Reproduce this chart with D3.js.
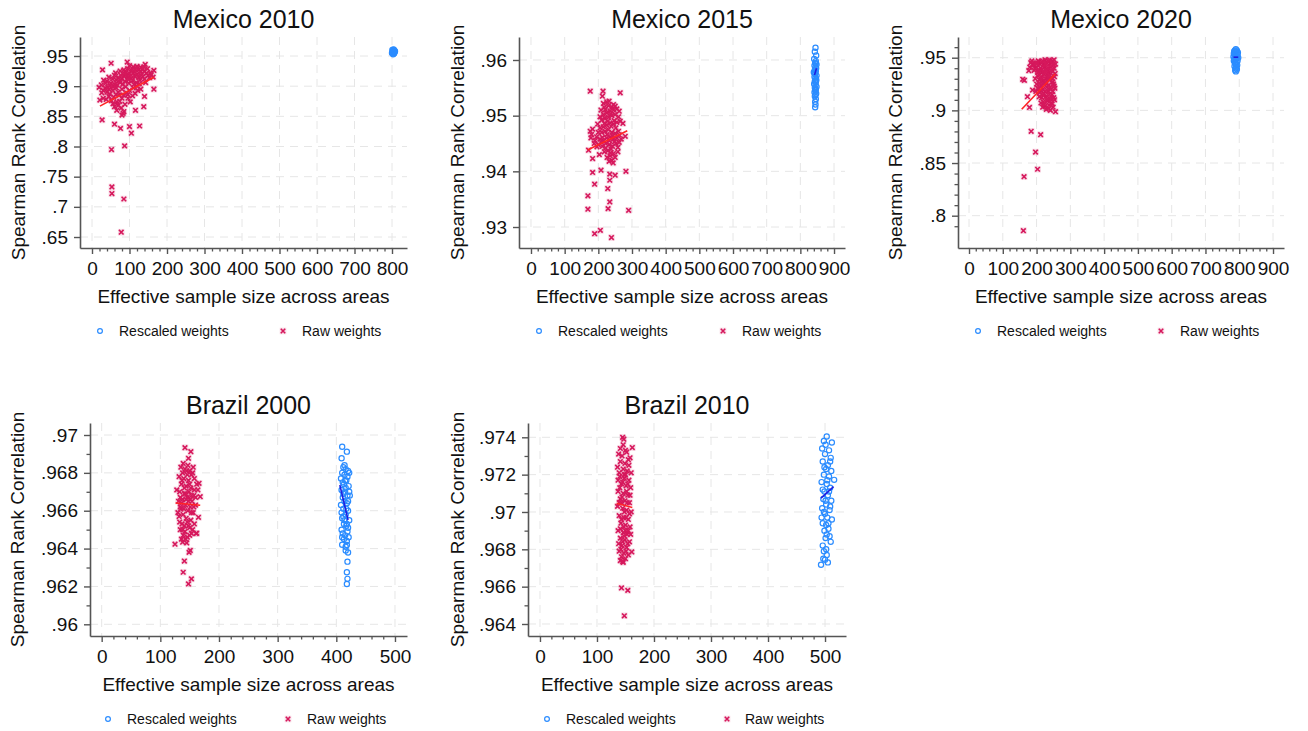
<!DOCTYPE html>
<html><head><meta charset="utf-8">
<script src="https://cdn.jsdelivr.net/npm/d3@7"></script>
<style>
html,body{margin:0;padding:0;background:#fff;}
svg text{font-family:"Liberation Sans",Arial,sans-serif;fill:#111;}
</style></head>
<body><svg id="c" width="1308" height="731"></svg>
<script>
// ---------- DATA ----------
const legendLabels = ["Rescaled weights", "Raw weights"];
const xAxisTitle = "Effective sample size across areas";
const yAxisTitle = "Spearman Rank Correlation";
const panelTitles = ["Mexico 2010", "Mexico 2015", "Mexico 2020", "Brazil 2000", "Brazil 2010"];

// Mexico 2010
const mx2010XTicks = [0,100,200,300,400,500,600,700,800];
const mx2010YTicks = [.65,.7,.75,.8,.85,.9,.95];
const mx2010Rescaled = [[800,.955],[803,.957],[806,.959],[804,.956],[802,.958],[807,.957],[805,.954],[801,.960],[804,.961],[806,.955],[803,.953],[808,.958],[805,.960],[802,.956]];
const mx2010Raw = [[94,.940],[51,.938],[142,.936],[100,.934],[110,.932],[120,.933],[130,.931],[135,.929],[125,.927],[115,.928],[105,.926],[95,.929],[85,.927],[75,.925],[90,.923],[100,.921],[110,.922],[120,.920],[130,.924],[140,.925],[145,.921],[150,.918],[135,.916],[125,.914],[115,.916],[105,.913],[95,.915],[85,.917],[80,.912],[70,.914],[65,.910],[60,.918],[55,.912],[45,.915],[40,.908],[50,.905],[60,.903],[75,.906],[88,.908],[98,.905],[108,.909],[118,.906],[128,.910],[140,.912],[155,.922],[165,.926],[163,.915],[165,.895],[28,.927],
[19,.898],[25,.902],[30,.893],[35,.897],[40,.890],[45,.895],[55,.893],[65,.897],[70,.890],[80,.895],[90,.899],[100,.893],[110,.897],[120,.900],[130,.895],[21,.877],[30,.880],[38,.878],[45,.883],[52,.876],[58,.882],[66,.874],[72,.885],[80,.880],[88,.870],[95,.886],[102,.874],[115,.888],[140,.883],[70,.868],[78,.864],[60,.866],[85,.858],
[112,.925],[118,.930],[123,.917],[133,.920],[138,.932],[104,.918],[97,.911],[92,.919],[87,.921],[82,.903],[77,.918],[72,.909],[67,.902],[63,.922],[57,.899],[48,.901],[42,.898],[36,.905],[31,.910],[26,.889],[112,.903],[126,.904],[143,.906],[148,.929],[153,.914],[158,.919],[92,.889],[84,.885],[74,.875],[64,.886],[56,.871],[48,.887],[108,.884],[122,.893],[96,.880],[66,.860],
[80,.852],[83,.855],[116,.860],[138,.866],[27,.844],[60,.837],[76,.830],[100,.833],[105,.822],[127,.834],[52,.795],[87,.801],[53,.733],[53,.722],[85,.713],[78,.658]];
const mx2010RawFit = [[21,.867],[165,.9147]];
const mx2010RescaledFit = [];

// Mexico 2015
const mx2015XTicks = [0,100,200,300,400,500,600,700,800,900];
const mx2015YTicks = [.93,.94,.95,.96];
const mx2015Rescaled = [[845,.9622],[843,.9615],[847,.9608],[841,.9602],[846,.9598],[844,.9595],[848,.9592],[842,.9590],[845,.9587],[847,.9585],[843,.9582],[846,.9580],[840,.9578],[844,.9575],[848,.9572],[842,.9570],[845,.9568],[847,.9565],[843,.9562],[846,.9560],[841,.9557],[845,.9555],[848,.9552],[843,.9550],[846,.9547],[844,.9545],[842,.9542],[847,.9540],[845,.9537],[843,.9535],[846,.9530],[844,.9525],[845,.9520],[844,.9515],[846,.9594],[842,.9577],[847,.9563],[844,.9548]];
const mx2015Raw = [[176,.9544],[214,.9544],[265,.9541],[212,.9535],[215,.9522],[225,.9525],
[230,.9518],[240,.9515],[250,.9517],[255,.9512],[245,.9510],[235,.9508],[225,.9505],[215,.9502],[205,.9498],[210,.9492],[220,.9495],[230,.9497],[240,.9500],[250,.9502],[260,.9498],[265,.9490],[255,.9488],[245,.9485],[235,.9487],[225,.9483],[215,.9480],[205,.9478],[198,.9485],[210,.9470],[220,.9472],[230,.9475],[240,.9470],[250,.9468],[260,.9472],[273,.9486],[280,.9463],[268,.9458],[255,.9460],[245,.9458],[235,.9462],[225,.9460],[215,.9455],[205,.9458],[195,.9462],[183,.9476],[176,.9472],[180,.9466],[188,.9450],[200,.9448],[212,.9445],[222,.9450],[232,.9448],[242,.9445],[252,.9450],[262,.9452],[238,.9440],[228,.9437],[218,.9435],[245,.9432],[235,.9428],[240,.9420],[232,.9418],[171,.9438],[183,.9423],[203,.9430],[250,.9425],
[221,.9511],[237,.9503],[247,.9491],[228,.9490],[218,.9486],[238,.9481],[252,.9478],[263,.9465],[243,.9464],[226,.9466],[212,.9461],[200,.9470],[233,.9455],[248,.9453],[258,.9443],[222,.9442],[209,.9452],[196,.9444],[236,.9433],[226,.9425],[244,.9415],[258,.9435],[218,.9515],[245,.9520],[232,.9526],[262,.9508],[208,.9510],[190,.9455],[178,.9460],
[183,.9398],[208,.9402],[189,.9377],[169,.9356],[169,.9332],[228,.9369],[234,.9384],[234,.9395],[250,.9393],[282,.9400],[234,.9345],[229,.9333],[290,.9330],[206,.9294],[189,.9288],[239,.9281]];
const mx2015RawFit = [[168,.94383],[286,.94730]];
const mx2015RescaledFit = [[842,.9573],[848,.9585]];

// Mexico 2020
const mx2020XTicks = [0,100,200,300,400,500,600,700,800,900];
const mx2020YTicks = [.8,.85,.9,.95];
const mx2020Rescaled = [[790,.958],[787,.957],[793,.957],[785,.956],[791,.956],[796,.955],[788,.955],[784,.954],[792,.954],[795,.953],[786,.953],[790,.952],[783,.951],[794,.951],[788,.950],[797,.950],[785,.949],[791,.949],[789,.948],[795,.947],[784,.947],[792,.946],[787,.945],[790,.944],[794,.943],[786,.942],[791,.941],[789,.940],[793,.939],[788,.938],[790,.937]];
const mx2020Raw = [[161,.7858],[163,.8370],[203,.8441],[197,.8604],[212,.8769],[184,.8801],[179,.9028],[256,.8987],[173,.9130],[188,.9193],[159,.9295],[164,.9285],[177,.9377],[183,.9453],[247,.9470],[180,.9410],[195,.9400],[190,.9430],
[205,.947],[215,.946],[225,.948],[235,.947],[245,.946],[252,.948],[210,.944],[220,.943],[230,.945],[240,.944],[250,.943],[200,.941],[212,.940],[222,.941],[232,.939],[242,.941],[252,.940],[207,.937],[217,.936],[227,.938],[237,.936],[247,.937],[255,.935],[203,.933],[213,.932],[223,.934],[233,.933],[243,.931],[253,.932],[208,.929],[218,.928],[228,.930],[238,.929],[248,.927],[200,.925],[212,.924],[224,.926],[236,.924],[250,.925],[206,.921],[218,.920],[230,.922],[242,.920],[254,.921],[210,.917],[222,.916],[234,.918],[246,.915],[215,.912],[227,.913],[239,.911],[251,.912],[220,.908],[232,.909],[244,.907],[225,.904],[237,.905],[249,.903],[229,.901],[241,.900],[218,.903],[213,.907],[208,.913],[198,.918],[196,.930],[193,.938],[190,.944],[186,.947],
[203,.945],[218,.947],[228,.944],[238,.948],[248,.944],[214,.938],[224,.936],[234,.940],[244,.938],[204,.936],[216,.930],[226,.927],[236,.931],[246,.930],[220,.925],[230,.926],[240,.922],[252,.923],[212,.919],[226,.918],[238,.915],[248,.918],[218,.915],[232,.910],[244,.911],[222,.906],[236,.902],[246,.906],[253,.910],[229,.938],[239,.933],[209,.926],[203,.921],[198,.945],[256,.944]];
const mx2020RawFit = [[156,.901],[255,.9345]];
const mx2020RescaledFit = [[783,.9505],[797,.9505]];

// Brazil 2000
const br2000XTicks = [0,100,200,300,400,500];
const br2000YTicks = [.96,.962,.964,.966,.968,.97];
const br2000Rescaled = [[410,.96938],[418,.96912],[409,.96877],
[412,.9683],[416,.9682],[420,.9681],[410,.9680],[414,.9679],[422,.9680],[408,.9677],[417,.9676],[413,.9674],[421,.9673],[409,.9671],[415,.9670],[419,.9668],[411,.9667],[423,.9668],[414,.9665],[418,.9664],[408,.9663],[412,.9661],[420,.9660],[416,.9658],[410,.9656],[422,.9655],[413,.9653],[417,.9652],[409,.9650],[419,.9649],[411,.9648],[415,.9647],[421,.9646],[413,.9645],[418,.9644],[410,.9642],[416,.9641],
[414,.9684],[419,.9678],[411,.9675],[416,.9672],[420,.9665],[412,.9669],[409,.9659],[417,.9661],[414,.9655],[420,.9651],[412,.9657],[418,.9653],[415,.9676],[410,.9646],[422,.9670],
[418,.96419],[420,.96379],[419,.96331],[418,.96275],[419,.96240],[418,.96213],[416,.9639]];
const br2000Raw = [[135,.9683],[142,.9682],[150,.9681],[138,.9680],[146,.9679],[155,.9680],[132,.9678],[140,.9677],[148,.9676],[158,.9677],[136,.9674],[144,.9673],[152,.9672],[162,.9674],[133,.9670],[141,.9669],[149,.9670],[157,.9668],[138,.9666],[146,.9667],[154,.9665],[131,.9665],[143,.9663],[151,.9662],[160,.9663],[135,.9661],[147,.9660],[139,.9658],[156,.9659],[132,.9657],[144,.9656],[152,.9655],[137,.9653],[148,.9652],[158,.9653],[134,.9650],[142,.9649],[150,.9651],[139,.9647],[146,.9646],[153,.9648],[136,.9645],[161,.9648],[145,.9643],[134,.9662],[153,.9668],[128,.9671],[164,.9671],[130,.9659],
[137,.9676],[145,.9681],[153,.9679],[141,.9672],[150,.9674],[158,.9671],[134,.9667],[143,.9669],[151,.9666],[160,.9667],[136,.9664],[148,.9665],[157,.9662],[140,.9661],[153,.9659],[133,.9654],[146,.9654],[155,.9650],[141,.9652],[150,.9647],[138,.9650],[143,.9645],[147,.9684],[139,.9685],[156,.9683],[144,.9666],
[142,.96933],[152,.96912],[148,.96877],[166,.96745],[168,.96674],[165,.96565],[162,.96481],[125,.96423],[138,.96434],[149,.96380],[151,.96390],[141,.96334],[139,.96275],[153,.96240],[148,.96213]];
const br2000RawFit = [[126,.96641],[168,.96629]];
const br2000RescaledFit = [[406,.96736],[420,.96551]];

// Brazil 2010
const br2010XTicks = [0,100,200,300,400,500];
const br2010YTicks = [.964,.966,.968,.97,.972,.974];
const br2010Rescaled = [[503,.97404],[512,.97372],[498,.9738],[495,.9734],[507,.9733],[500,.9731],[510,.9729],[496,.9727],[505,.9725],[502,.9723],[511,.9722],[498,.9720],[507,.9719],[516,.97172],[494,.9716],[503,.9715],[509,.9713],[499,.9711],[505,.9709],[497,.9707],[511,.9706],[502,.9704],[495,.9702],[508,.9701],[500,.9699],[504,.9697],[512,.9696],[496,.9694],[502,.9693],[506,.9691],[499,.9690],[503,.9688],[510,.9684],[496,.9682],[500,.96744],[493,.96717],[503,.9677],[498,.9679],[505,.9673],
[501,.9736],[509,.9727],[499,.9724],[504,.9717],[496,.9712],[507,.9711],[501,.9706],[509,.9703],[498,.9700],[506,.9694],[494,.9697],[501,.9686],[508,.9687],[497,.9675],[502,.9680]];
const br2010Raw = [[145,.9740],[147,.9739],[162,.97345],[146,.9736],
[138,.9731],[144,.9730],[152,.9732],[158,.9729],[141,.9727],[149,.9726],[155,.9728],[136,.9724],[146,.9723],[153,.9722],[160,.9721],[140,.9719],[148,.9718],[156,.9717],[143,.9715],[151,.9714],[159,.9713],[137,.9711],[146,.9710],[154,.9709],[141,.9707],[149,.9706],[157,.9705],[136,.9703],[145,.9702],[152,.9701],[160,.9700],[139,.9698],[147,.9697],[155,.9696],[142,.9694],[150,.9693],[158,.9692],[137,.9690],[146,.9689],[153,.9688],[141,.9686],[149,.9685],[157,.9684],[144,.9682],[152,.9681],[139,.9679],[147,.9678],[155,.9677],[143,.9676],[150,.9675],[141,.9674],[146,.9673],[161,.96786],[145,.96735],[148,.9720],[143,.9705],[150,.9690],
[141,.9734],[150,.9733],[156,.9725],[139,.9721],[150,.9720],[145,.9716],[154,.9715],[140,.9713],[152,.9711],[144,.9708],[153,.9705],[139,.9705],[148,.9700],[157,.9699],[143,.9696],[151,.9697],[141,.9691],[155,.9690],[148,.9687],[145,.9684],[154,.9683],[142,.9680],[151,.9679],[138,.9683],[159,.9688],[158,.9709],[137,.9717],[147,.9692],
[143,.96593],[154,.96580],[148,.96444]];
const br2010RawFit = [[134.5,.97047],[162,.97024]];
const br2010RescaledFit = [[493,.97074],[515,.97136]];

// ---------- LAYOUT ----------
const panels = [
  {title:panelTitles[0], raw:mx2010Raw, resc:mx2010Rescaled, rawFit:mx2010RawFit, rescFit:mx2010RescaledFit, xTicks:mx2010XTicks, yTicks:mx2010YTicks, xMinor:20, yMinor:null,
   L:80, R:407, T:37, B:248, xDom:[-32,840], yDom:[.6318,.9815], yTitleDx:62, leg:[20,39,203,222]},
  {title:panelTitles[1], raw:mx2015Raw, resc:mx2015Rescaled, rawFit:mx2015RawFit, rescFit:mx2015RescaledFit, xTicks:mx2015XTicks, yTicks:mx2015YTicks, xMinor:20, yMinor:null,
   L:519, R:845, T:37, B:248, xDom:[-35.6,932.6], yDom:[.92623,.96413], yTitleDx:62, leg:[20,39,204,223]},
  {title:panelTitles[2], raw:mx2020Raw, resc:mx2020Rescaled, rawFit:mx2020RawFit, rescFit:mx2020RescaledFit, xTicks:mx2020XTicks, yTicks:mx2020YTicks, xMinor:20, yMinor:.01,
   L:958, R:1284, T:37, B:248, xDom:[-32.6,932.5], yDom:[.76933,.96966], yTitleDx:63, leg:[20,39,203,222]},
  {title:panelTitles[3], raw:br2000Raw, resc:br2000Rescaled, rawFit:br2000RawFit, rescFit:br2000RescaledFit, xTicks:br2000XTicks, yTicks:br2000YTicks, xMinor:20, yMinor:.001,
   L:90, R:407, T:423, B:636, xDom:[-19.9,520.5], yDom:[.959382,.970634], yTitleDx:73, leg:[18,37,198,217]},
  {title:panelTitles[4], raw:br2010Raw, resc:br2010Rescaled, rawFit:br2010RawFit, rescFit:br2010RescaledFit, xTicks:br2010XTicks, yTicks:br2010YTicks, xMinor:20, yMinor:.001,
   L:528, R:846, T:423, B:636, xDom:[-21,536.8], yDom:[.963357,.974766], yTitleDx:71, leg:[19,38,199,217]}
];

const RAW_COL = "#d6185c", RESC_COL = "#2b8cff", RAW_FIT = "#ff2525", RESC_FIT = "#1f1fe0";
const AXIS_COL = "#555", GRID_COL = "#e6e6e6";
const fmt = v => (+v.toFixed(4)).toString().replace(/^0\./, ".");
const svg = d3.select("#c");

function cross(g, x, y, s) {
  g.append("rect").attr("x", x - 3.3).attr("y", y - 3.3).attr("width", 6.6).attr("height", 6.6)
    .attr("fill", RAW_COL).attr("opacity", 0.16);
  g.append("path").attr("d", `M${x-s},${y-s}L${x+s},${y+s}M${x-s},${y+s}L${x+s},${y-s}`)
    .attr("stroke", RAW_COL).attr("stroke-width", 1.6).attr("fill", "none");
}

panels.forEach(p => {
  const x = d3.scaleLinear().domain(p.xDom).range([p.L, p.R]);
  const y = d3.scaleLinear().domain(p.yDom).range([p.B, p.T]);
  const g = svg.append("g");

  // grid
  g.append("g").selectAll("line").data(p.yTicks).join("line")
    .attr("x1", p.L).attr("x2", p.R).attr("y1", d => y(d)).attr("y2", d => y(d))
    .attr("stroke", GRID_COL).attr("stroke-width", 1).attr("stroke-dasharray", "8,6");
  g.append("g").selectAll("line").data(p.xTicks).join("line")
    .attr("y1", p.T).attr("y2", p.B).attr("x1", d => x(d)).attr("x2", d => x(d))
    .attr("stroke", GRID_COL).attr("stroke-width", 1).attr("stroke-dasharray", "8,6");

  // minor ticks
  const xMin = d3.range(0, d3.max(p.xTicks) + 1e-9, p.xMinor).filter(v => !p.xTicks.some(t => Math.abs(t - v) < 1e-9));
  g.append("g").attr("transform", `translate(0,${p.B})`)
    .call(d3.axisBottom(x).tickValues(xMin).tickSize(3.5).tickFormat("").tickSizeOuter(0))
    .call(a => a.select(".domain").remove())
    .call(a => a.selectAll("line").attr("stroke", AXIS_COL).attr("stroke-width", 1.3));
  if (p.yMinor) {
    const lo = d3.min(p.yTicks), hi = d3.max(p.yTicks);
    const ym = d3.range(Math.round(lo / p.yMinor) - 1, Math.round(hi / p.yMinor) + 2).map(k => k * p.yMinor)
      .filter(v => v >= p.yDom[0] && v <= p.yDom[1] && !p.yTicks.some(t => Math.abs(t - v) < p.yMinor / 10));
    g.append("g").attr("transform", `translate(${p.L},0)`)
      .call(d3.axisLeft(y).tickValues(ym).tickSize(3.5).tickFormat("").tickSizeOuter(0))
      .call(a => a.select(".domain").remove())
      .call(a => a.selectAll("line").attr("stroke", AXIS_COL).attr("stroke-width", 1.3));
  }

  // axes
  const ax = g.append("g").attr("transform", `translate(0,${p.B})`)
    .call(d3.axisBottom(x).tickValues(p.xTicks).tickFormat(fmt).tickSize(6).tickPadding(8).tickSizeOuter(0));
  const ay = g.append("g").attr("transform", `translate(${p.L},0)`)
    .call(d3.axisLeft(y).tickValues(p.yTicks).tickFormat(fmt).tickSize(6).tickPadding(6).tickSizeOuter(0));
  [ax, ay].forEach(a => {
    a.select(".domain").attr("stroke", AXIS_COL).attr("stroke-width", 1.6);
    a.selectAll(".tick line").attr("stroke", AXIS_COL).attr("stroke-width", 1.4);
    a.selectAll(".tick text").attr("font-size", 19).attr("fill", "#111")
      .style("font-family", '"Liberation Sans", Arial, sans-serif');
  });

  // points: rescaled first, raw on top
  const pts = g.append("g");
  pts.selectAll("circle").data(p.resc).join("circle")
    .attr("cx", d => x(d[0])).attr("cy", d => y(d[1])).attr("r", 2.6)
    .attr("fill", "none").attr("stroke", RESC_COL).attr("stroke-width", 1.2);
  const rg = g.append("g");
  p.raw.forEach(d => cross(rg, x(d[0]), y(d[1]), 2.3));

  // fit lines
  const line = d3.line().x(d => x(d[0])).y(d => y(d[1]));
  if (p.rawFit.length) g.append("path").datum(p.rawFit).attr("d", line).attr("stroke", RAW_FIT).attr("stroke-width", 1.6).attr("fill", "none");
  if (p.rescFit.length) g.append("path").datum(p.rescFit).attr("d", line).attr("stroke", RESC_FIT).attr("stroke-width", 1.6).attr("fill", "none");

  // titles
  g.append("text").attr("x", (p.L + p.R) / 2).attr("y", p.T - 9).attr("text-anchor", "middle")
    .attr("font-size", 25).text(p.title);
  g.append("text").attr("x", (p.L + p.R) / 2).attr("y", p.B + 55).attr("text-anchor", "middle")
    .attr("font-size", 19).text(xAxisTitle);
  g.append("text").attr("transform", `translate(${p.L - p.yTitleDx},${(p.T + p.B) / 2}) rotate(-90)`)
    .attr("text-anchor", "middle").attr("dy", "0.35em").attr("font-size", 19).text(yAxisTitle);

  // legend
  const ly = p.B + 83;
  g.append("circle").attr("cx", p.L + p.leg[0]).attr("cy", ly).attr("r", 2.4)
    .attr("fill", "none").attr("stroke", RESC_COL).attr("stroke-width", 1.2);
  g.append("text").attr("x", p.L + p.leg[1]).attr("y", ly).attr("dy", "0.35em").attr("font-size", 14).text(legendLabels[0]);
  cross(g, p.L + p.leg[2], ly, 2.2);
  g.append("text").attr("x", p.L + p.leg[3]).attr("y", ly).attr("dy", "0.35em").attr("font-size", 14).text(legendLabels[1]);
});
</script></body></html>
